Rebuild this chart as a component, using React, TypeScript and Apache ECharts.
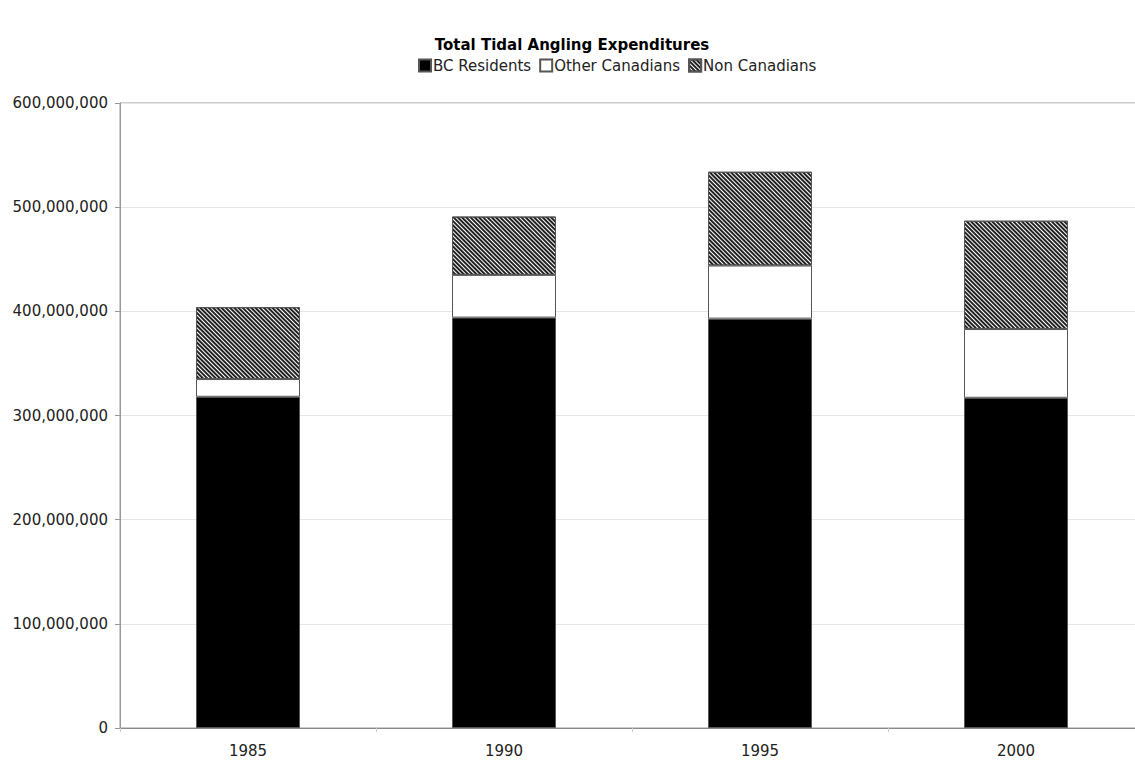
import React, { useEffect, useRef } from "react";
import * as echarts from "echarts";

const categories = ["1985", "1990", "1995", "2000"];
const bcResidents = [318000000, 394000000, 393000000, 317000000];
const otherCanadians = [17000000, 41000000, 51000000, 66000000];
const nonCanadians = [69000000, 56000000, 90000000, 104000000];
const seriesNames = ["BC Residents", "Other Canadians", "Non Canadians"];

const FONT = "DejaVu Sans, Verdana, sans-serif";

export default function App() {
  const ref = useRef<HTMLDivElement>(null);
  useEffect(() => {
    if (!ref.current) return;
    const chart = echarts.init(ref.current, undefined, { renderer: "svg" });
    const border = { borderColor: "#555", borderWidth: 1 };
    chart.setOption({
      animation: false,
      backgroundColor: "#fff",
      textStyle: { fontFamily: FONT },
      title: {
        text: "Total Tidal Angling Expenditures",
        left: 567,
        textAlign: "center",
        top: 32,
        textStyle: { fontFamily: FONT, fontSize: 15, fontWeight: "bold", color: "#000" },
      },
      legend: {
        left: 418,
        top: 58,
        padding: 0,
        itemWidth: 12,
        itemHeight: 12,
        itemGap: 8,
        icon: "rect",
        textStyle: { fontFamily: FONT, fontSize: 15, color: "#222", padding: [0, 0, 0, -3] },
        data: seriesNames,
      },
      grid: { left: 120, top: 103, width: 1024, height: 625, show: true, borderColor: "#999", borderWidth: 1, backgroundColor: "#fff" },
      xAxis: {
        type: "category",
        data: categories,
        axisLine: { lineStyle: { color: "#888", width: 1 } },
        axisTick: { show: true, alignWithLabel: false, length: 4, lineStyle: { color: "#ccc" } },
        axisLabel: { fontFamily: FONT, fontSize: 15, color: "#222", margin: 15 },
      },
      yAxis: {
        type: "value",
        min: 0,
        max: 600000000,
        interval: 100000000,
        axisLine: { show: true, lineStyle: { color: "#999" } },
        axisTick: { show: true, length: 5, lineStyle: { color: "#999" } },
        splitLine: { lineStyle: { color: "#e6e6e6" } },
        axisLabel: {
          fontFamily: FONT,
          fontSize: 15,
          color: "#222",
          margin: 12,
          formatter: (v: number) => v.toLocaleString("en-US"),
        },
      },
      series: [
        {
          name: seriesNames[0],
          type: "bar",
          stack: "total",
          barWidth: 104,
          data: bcResidents,
          itemStyle: { color: "#000", ...border },
        },
        {
          name: seriesNames[1],
          type: "bar",
          stack: "total",
          barWidth: 104,
          data: otherCanadians,
          itemStyle: { color: "#fff", ...border },
        },
        {
          name: seriesNames[2],
          type: "bar",
          stack: "total",
          barWidth: 104,
          data: nonCanadians,
          itemStyle: {
            color: "#fff",
            ...border,
            decal: {
              symbol: "rect",
              symbolSize: 1,
              dashArrayX: [1, 0],
              dashArrayY: [2, 1],
              rotation: Math.PI / 4,
              color: "#222",
              backgroundColor: "#fff",
            },
          },
        },
      ],
    });
    return () => chart.dispose();
  }, []);
  return (
    <div style={{ position: "absolute", left: 0, top: 0, width: 1135, height: 761, overflow: "hidden" }}>
      <div ref={ref} style={{ width: 1160, height: 761 }} />
    </div>
  );
}
